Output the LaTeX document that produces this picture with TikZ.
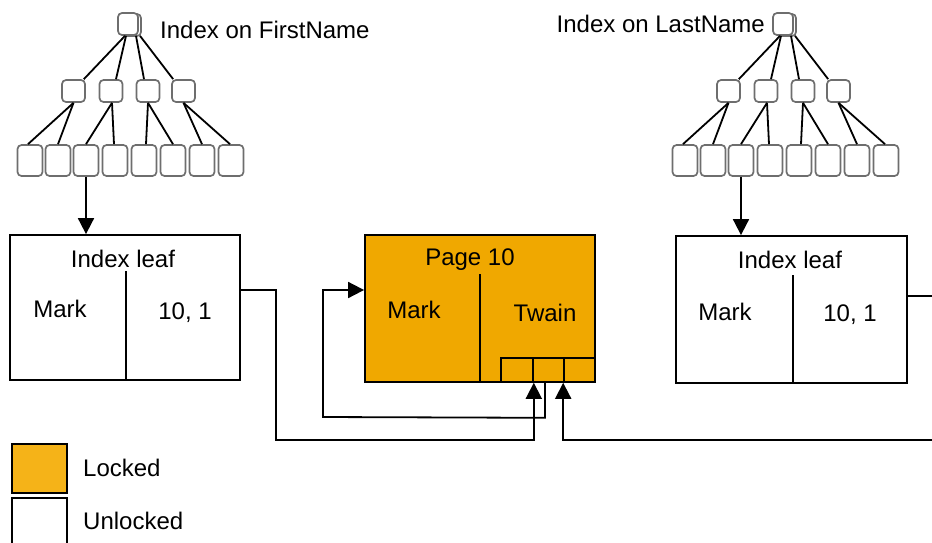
\documentclass[tikz,border=0pt]{standalone}
\usepackage{fontspec}
\setmainfont{Liberation Sans}
\usetikzlibrary{arrows.meta}
\definecolor{lockorange}{HTML}{F0A800}
\definecolor{legorange}{HTML}{F5B318}
\definecolor{treegray}{HTML}{6E6E6E}
\tikzset{
  tbox/.style={draw=treegray, line width=1.7pt, rounded corners=4pt, fill=white, inner sep=0pt},
  leafbox/.style={tbox, minimum width=25pt, minimum height=31pt},
  midbox/.style={tbox, minimum width=23pt, minimum height=22pt},
  rootbox/.style={tbox, minimum width=20pt, minimum height=22pt},
  bigbox/.style={draw=black, line width=1.8pt, inner sep=0pt, minimum width=230pt, minimum height=146pt},
  cell/.style={draw=black, line width=1.6pt, inner sep=0pt, minimum height=24pt},
  lab/.style={font=\fontsize{24pt}{27pt}\selectfont, inner sep=0pt},
  tline/.style={line width=1.8pt, black},
  conn/.style={line width=1.8pt, black},
  arr/.style={conn, -{Triangle[length=16pt, width=16pt]}},
}
\begin{document}
\begin{tikzpicture}[x=1pt, y=-1pt]
\useasboundingbox (0,0) rectangle (932,542);

% ---------- trees ----------
\foreach \s/\p in {0/L, 655/R} {
  \begin{scope}[xshift=\s]
    \node[rootbox] (\p rootb) at (131,25) {};
    \node[rootbox] (\p root) at (128,24) {};
    \node[midbox] (\p m1) at (73.5,91) {};
    \node[midbox] (\p m2) at (111,91) {};
    \node[midbox] (\p m3) at (148,91) {};
    \node[midbox] (\p m4) at (183.5,91) {};
    \foreach \i/\x in {1/30,2/58,3/86,4/115,5/144,6/173,7/202,8/231}
      \node[leafbox] (\p l\i) at (\x,160.5) {};
  \end{scope}
  \draw[tline] ([xshift=-3]\p root.south) -- ([xshift=-2]\p m1.north east);
  \draw[tline] ([xshift=-2]\p root.south) -- ([xshift=5]\p m2.north);
  \draw[tline] ([xshift=8]\p root.south) -- ([xshift=-4]\p m3.north);
  \draw[tline] ([xshift=12]\p root.south) -- ([xshift=2]\p m4.north west);
  \draw[tline] (\p m1.south) -- ([xshift=-2]\p l1.north);
  \draw[tline] (\p m1.south) -- (\p l2.north);
  \draw[tline] ([xshift=1]\p m2.south) -- (\p l3.north);
  \draw[tline] ([xshift=1]\p m2.south) -- ([xshift=-1]\p l4.north);
  \draw[tline] (\p m3.south) -- ([xshift=2]\p l5.north);
  \draw[tline] (\p m3.south) -- (\p l6.north);
  \draw[tline] (\p m4.south) -- (\p l7.north);
  \draw[tline] (\p m4.south) -- ([xshift=-1]\p l8.north);
}
\node[lab, anchor=west] (tl) at (160,30) {Index on FirstName};
\node[lab, anchor=east] (tr) at (765,24) {Index on LastName};

% ---------- index leaf boxes ----------
\node[bigbox, minimum height=145pt] (leafL) at (125,307.5) {};
\draw[conn] ([xshift=1]leafL.south) -- ++(0,-110);
\node[lab] (leafLt) at (123,259) {Index leaf};
\node[lab] (leafLa) at (60,309) {Mark};
\node[lab] (leafLb) at (185,313) {10, 1};

\node[bigbox, minimum width=231pt, minimum height=147pt] (leafR) at (791.5,309.5) {};
\draw[conn] ([xshift=1.5]leafR.south) -- ++(0,-109);
\node[lab] (leafRt) at (790,260) {Index leaf};
\node[lab] (leafRa) at (725,312) {Mark};
\node[lab] (leafRb) at (850,315) {10, 1};

% ---------- page 10 ----------
\node[bigbox, fill=lockorange, minimum height=147pt] (page) at (480,308.5) {};
\draw[conn] (page.south) -- ++(0,-109);
\node[lab] (paget) at (470,260) {Page 10};
\node[lab] (pagea) at (414,310) {Mark};
\node[lab] (pageb) at (545,313) {Twain};
\node[cell, minimum width=32pt] (c1) at (517,370) {};
\node[cell, minimum width=31pt] (c2) at (548.5,370) {};
\node[cell, minimum width=31pt] (c3) at (579.5,370) {};

% ---------- connectors ----------
\draw[arr] (Ll3.south) -- (Ll3.south |- leafL.north);
\draw[arr] (Rl3.south) -- (Rl3.south |- leafR.north);
\draw[arr] ([yshift=17.5]leafL.east) -- ++(35,0) -- ++(0,150) -| (c1.south east);
\draw[arr] ([xshift=-3.5]c2.south) -- ++(0,35) -- (323,417) |- ([yshift=18.5]page.west);
\draw[conn] ([yshift=13.5]leafR.east) -- (934,296);
\draw[arr] (934,440) -| (c3.south west);

% ---------- legend ----------
\node[draw=black, line width=1.8pt, fill=legorange, minimum width=55pt, minimum height=49pt, inner sep=0pt] (lock) at (39.5,468.5) {};
\node[lab, anchor=west] (lockt) at (83,468) {Locked};
\node[draw=black, line width=1.8pt, fill=white, minimum width=55pt, minimum height=50pt, inner sep=0pt] (unlock) at (39.5,523) {};
\node[lab, anchor=west] (unlockt) at (83,521) {Unlocked};
\end{tikzpicture}
\end{document}
